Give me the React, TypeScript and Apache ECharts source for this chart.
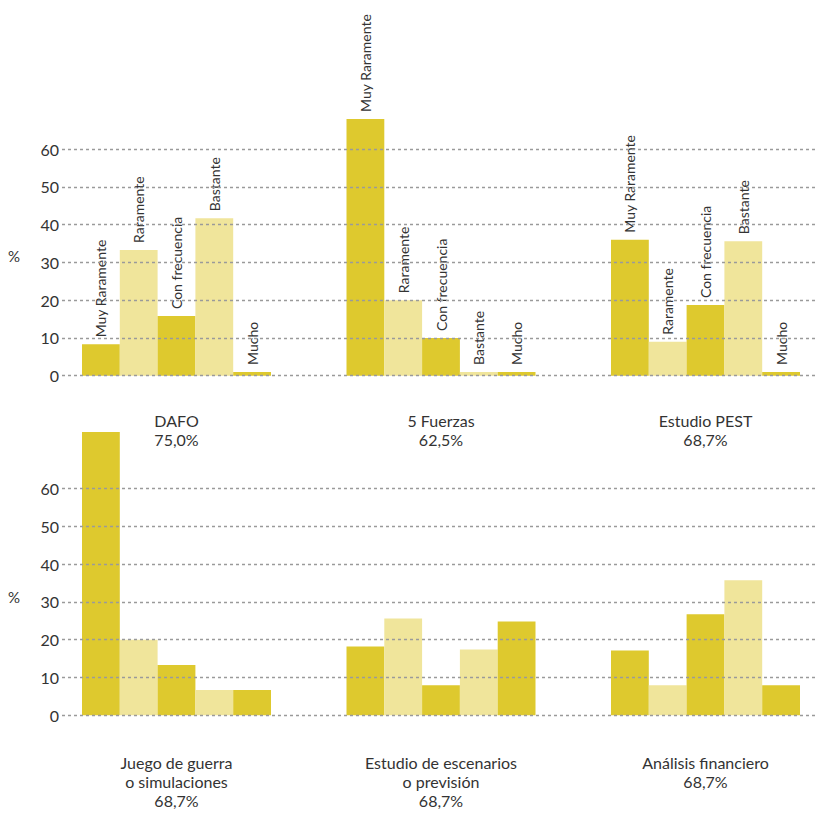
import React, { useEffect, useRef } from "react";
import * as echarts from "echarts";

// Response categories, one bar each
const categories = ["Muy Raramente", "Raramente", "Con frecuencia", "Bastante", "Mucho"];

// Percentages per tool
const dafo = [8.3, 33.3, 15.8, 41.7, 1];
const fuerzas = [68, 20, 10, 1, 1];
const pest = [36, 9, 18.7, 35.6, 1];
const juego = [75, 20, 13.3, 6.7, 6.7];
const escenarios = [18.2, 25.6, 7.9, 17.4, 24.8];
const financiero = [17.1, 7.9, 26.7, 35.7, 7.9];

// Captions under each panel
const captionsTop = ["DAFO\n75,0%", "5 Fuerzas\n62,5%", "Estudio PEST\n68,7%"];
const captionsBottom = [
  "Juego de guerra\no simulaciones\n68,7%",
  "Estudio de escenarios\no previsión\n68,7%",
  "Análisis financiero\n68,7%",
];

const yMin = 0;
const yMax = 60;
const yStep = 10;

const DARK = "#dec92e";
const LIGHT = "#f0e59b";
const TEXT = "#333333";
const FONT = "Lato";

export default function App() {
  const ref = useRef<HTMLDivElement>(null);

  useEffect(() => {
    document.body.style.margin = "0";
    if (!ref.current) return;
    const chart = echarts.init(ref.current, undefined, { renderer: "svg" });

    const rows = [
      { top: 149.1, height: 226.6, panels: [dafo, fuerzas, pest], labels: true, captions: captionsTop, capY: 411, pctY: 256 },
      { top: 488.6, height: 226.6, panels: [juego, escenarios, financiero], labels: false, captions: captionsBottom, capY: 753, pctY: 597 },
    ];

    const groupLeft = [82, 346.5, 611];
    const groupWidth = 189;

    const grid: any[] = [];
    const xAxis: any[] = [];
    const yAxis: any[] = [];
    const series: any[] = [];
    const graphic: any[] = [];

    rows.forEach((row) => {
      // full-width frame carrying the tick labels and dotted guide lines
      const fi = grid.length;
      grid.push({ left: 62, right: 0, top: row.top, height: row.height });
      xAxis.push({ type: "value", gridIndex: fi, min: 0, max: 1, show: false });
      yAxis.push({
        type: "value",
        gridIndex: fi,
        min: yMin,
        max: yMax,
        interval: yStep,
        z: 10,
        axisLine: { show: false },
        axisTick: { show: false },
        axisLabel: { color: TEXT, fontSize: 16, fontFamily: FONT, margin: 3 },
        splitLine: { lineStyle: { color: "#9a9a9a", width: 1.3, type: [3, 3] } },
      });
      series.push({ type: "scatter", xAxisIndex: fi, yAxisIndex: fi, data: [], silent: true });

      row.panels.forEach((values, p) => {
        const gi = grid.length;
        grid.push({ left: groupLeft[p], width: groupWidth, top: row.top, height: row.height });
        xAxis.push({ type: "category", gridIndex: gi, data: categories, show: false });
        yAxis.push({ type: "value", gridIndex: gi, min: yMin, max: yMax, show: false });
        series.push({
          type: "bar",
          xAxisIndex: gi,
          yAxisIndex: gi,
          barCategoryGap: 0,
          clip: false,
          data: values.map((v, i) => ({ value: v, itemStyle: { color: i % 2 === 0 ? DARK : LIGHT } })),
          label: row.labels
            ? {
                show: true,
                position: "top",
                rotate: 90,
                align: "left",
                verticalAlign: "middle",
                distance: 7,
                formatter: "{b}",
                color: TEXT,
                fontSize: 14,
                fontFamily: FONT,
              }
            : { show: false },
        });
        graphic.push({
          type: "text",
          x: groupLeft[p] + groupWidth / 2,
          y: row.capY,
          style: {
            text: row.captions[p],
            textAlign: "center",
            textVerticalAlign: "top",
            fill: TEXT,
            fontSize: 16,
            fontFamily: FONT,
            lineHeight: 19,
          },
        });
      });

      graphic.push({
        type: "text",
        x: 14,
        y: row.pctY,
        style: {
          text: "%",
          textAlign: "center",
          textVerticalAlign: "middle",
          fill: TEXT,
          fontSize: 15,
          fontFamily: FONT,
        },
      });
    });

    chart.setOption({
      animation: false,
      backgroundColor: "#ffffff",
      grid,
      xAxis,
      yAxis,
      series,
      graphic,
    });

    return () => chart.dispose();
  }, []);

  return <div ref={ref} style={{ width: 817, height: 814 }} />;
}
